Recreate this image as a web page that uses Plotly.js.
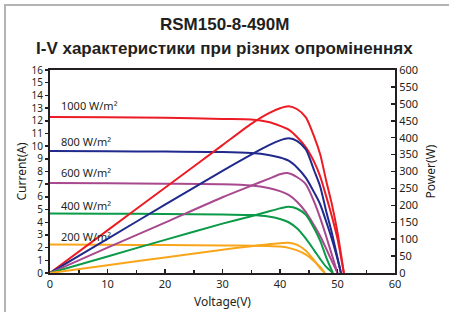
<!DOCTYPE html>
<html><head><meta charset="utf-8">
<script src="https://cdn.plot.ly/plotly-3.0.1.min.js"></script>
<style>
html,body{margin:0;padding:0;background:#fff;}
#chart{width:449px;height:312px;}
#frame{position:absolute;left:4px;top:4px;width:445px;height:308px;border-left:2px solid #b4b4b4;border-top:2px solid #b4b4b4;pointer-events:none;}
</style></head>
<body><div id="chart"></div><div id="frame"></div>
<script>
// Irradiance labels
const labels = ["1000 W/m²", "800 W/m²", "600 W/m²", "400 W/m²", "200 W/m²"];
const labelCurrent = [13.2, 10.4, 7.9, 5.3, 2.9];
const colors = ["#ec1c24", "#1f2a8c", "#a8488f", "#0a9a48", "#f9a51a"];

// Voltage (V), current (A), power (W)
const v1000 = [0, 10, 20, 30, 35, 38, 40, 41.5, 43, 44.5, 46, 47, 48, 49, 50, 51.1];
const i1000 = [12.3, 12.27, 12.23, 12.14, 12.1, 11.9, 11.6, 11.3, 10.7, 9.9, 8.7, 7.6, 6.1, 4.5, 2.7, 0];
const p1000 = [0, 126, 252, 378, 441, 472, 487, 493, 484, 460, 400, 350, 275, 205, 120, 0];

const v800 = [0, 10, 20, 30, 35, 38, 40, 41.5, 43, 44.5, 46, 47, 48, 49, 50, 50.6];
const i800 = [9.61, 9.6, 9.57, 9.54, 9.45, 9.3, 9.1, 8.85, 8.3, 7.5, 6.3, 5.4, 4.1, 2.7, 1.1, 0];
const p800 = [0, 101, 202, 302, 350, 377, 392, 398, 390, 365, 300, 255, 185, 120, 45, 0];

const v600 = [0, 10, 20, 30, 35, 38, 40, 41.5, 43, 44.5, 46, 47, 48, 49, 50];
const i600 = [7.09, 7.07, 7.04, 7.0, 6.9, 6.7, 6.45, 6.15, 5.6, 4.8, 3.7, 2.9, 1.95, 0.95, 0];
const p600 = [0, 75, 149, 224, 258, 278, 292, 295, 283, 262, 208, 162, 110, 55, 0];

const v400 = [0, 10, 20, 30, 35, 38, 40, 41.5, 43, 44.5, 46, 47, 48, 49.2];
const i400 = [4.68, 4.67, 4.65, 4.62, 4.57, 4.45, 4.25, 4.0, 3.5, 2.7, 1.75, 1.1, 0.5, 0];
const p400 = [0, 49, 98, 146, 168, 182, 191, 196, 190, 172, 130, 95, 48, 0];

const v200 = [0, 10, 20, 30, 35, 38, 40, 41.5, 43, 44.5, 46, 47, 47.8];
const i200 = [2.25, 2.22, 2.2, 2.17, 2.15, 2.13, 2.08, 1.98, 1.78, 1.45, 0.9, 0.45, 0];
const p200 = [0, 23, 46, 69, 79, 85, 88, 89.5, 83, 66, 36, 14, 0];

const volts = [v1000, v800, v600, v400, v200];
const currents = [i1000, i800, i600, i400, i200];
const powers = [p1000, p800, p600, p400, p200];

const xTicks = [0, 10, 20, 30, 40, 50, 60];

const traces = [];
for (let k = 0; k < 5; k++) {
  traces.push({x: volts[k], y: currents[k], type: 'scatter', mode: 'lines', yaxis: 'y',
    line: {color: colors[k], width: 2, shape: 'spline', smoothing: 0.7}, hoverinfo: 'skip'});
  traces.push({x: volts[k], y: powers[k], type: 'scatter', mode: 'lines', yaxis: 'y2',
    line: {color: colors[k], width: 2, shape: 'spline', smoothing: 0.7}, hoverinfo: 'skip'});
}

const tickFont = {family: 'Noto Sans, sans-serif', size: 11, color: '#231f20'};
const yTickFont = {family: 'Noto Sans, sans-serif', size: 10, color: '#231f20'};
const annotations = labels.map((t, k) => ({
  x: 1.5, y: labelCurrent[k], xref: 'x', yref: 'y', text: t, showarrow: false,
  xanchor: 'left', yanchor: 'middle', font: {family: 'Noto Sans, sans-serif', size: 11, color: '#231f20'}
}));
annotations.push({x: 0.507, y: 1.2266, xref: 'paper', yref: 'paper', text: '<b>RSM150-8-490M</b>',
  showarrow: false, xanchor: 'center', yanchor: 'middle',
  font: {family: 'Liberation Sans, Arial, sans-serif', size: 17, color: '#231f20'}});
annotations.push({x: 0.507, y: 1.108, xref: 'paper', yref: 'paper', text: '<b>I-V характеристики при різних опроміненнях</b>',
  showarrow: false, xanchor: 'center', yanchor: 'middle',
  font: {family: 'Liberation Sans, Arial, sans-serif', size: 17, color: '#231f20'}});

const layout = {
  width: 449, height: 312,
  margin: {l: 50, r: 54, t: 70, b: 39},
  paper_bgcolor: '#fff', plot_bgcolor: '#fff',
  showlegend: false,
  xaxis: {range: [0, 60], tickvals: xTicks, ticks: 'inside', ticklen: 4, tickwidth: 1.5, tickcolor: '#231f20',
    minor: {dtick: 5, ticks: 'inside', ticklen: 3, tickcolor: '#231f20'},
    showgrid: false, zeroline: false, showline: true, linecolor: '#231f20', linewidth: 2, mirror: true,
    tickfont: tickFont,
    title: {text: 'Voltage(V)', font: {family: 'Noto Sans, sans-serif', size: 12, color: '#231f20'}, standoff: 7}},
  yaxis: {range: [0, 16], dtick: 1, ticks: 'outside', ticklen: 3, tickwidth: 1.5, tickcolor: '#231f20',
    showgrid: false, zeroline: false, showline: true, linecolor: '#231f20', linewidth: 2,
    tickfont: yTickFont,
    title: {text: 'Current(A)', font: {family: 'Noto Sans, sans-serif', size: 12, color: '#231f20'}, standoff: 2}},
  yaxis2: {range: [0, 600], dtick: 50, overlaying: 'y', side: 'right', ticks: 'inside', ticklen: 4, tickwidth: 1.5, tickcolor: '#231f20',
    showgrid: false, zeroline: false, showline: true, linecolor: '#231f20', linewidth: 2,
    tickfont: tickFont,
    title: {text: 'Power(W)', font: {family: 'Noto Sans, sans-serif', size: 12, color: '#231f20'}, standoff: 10}},
  annotations: annotations
};

Plotly.newPlot('chart', traces, layout, {displayModeBar: false, staticPlot: true});
</script>
</body></html>
